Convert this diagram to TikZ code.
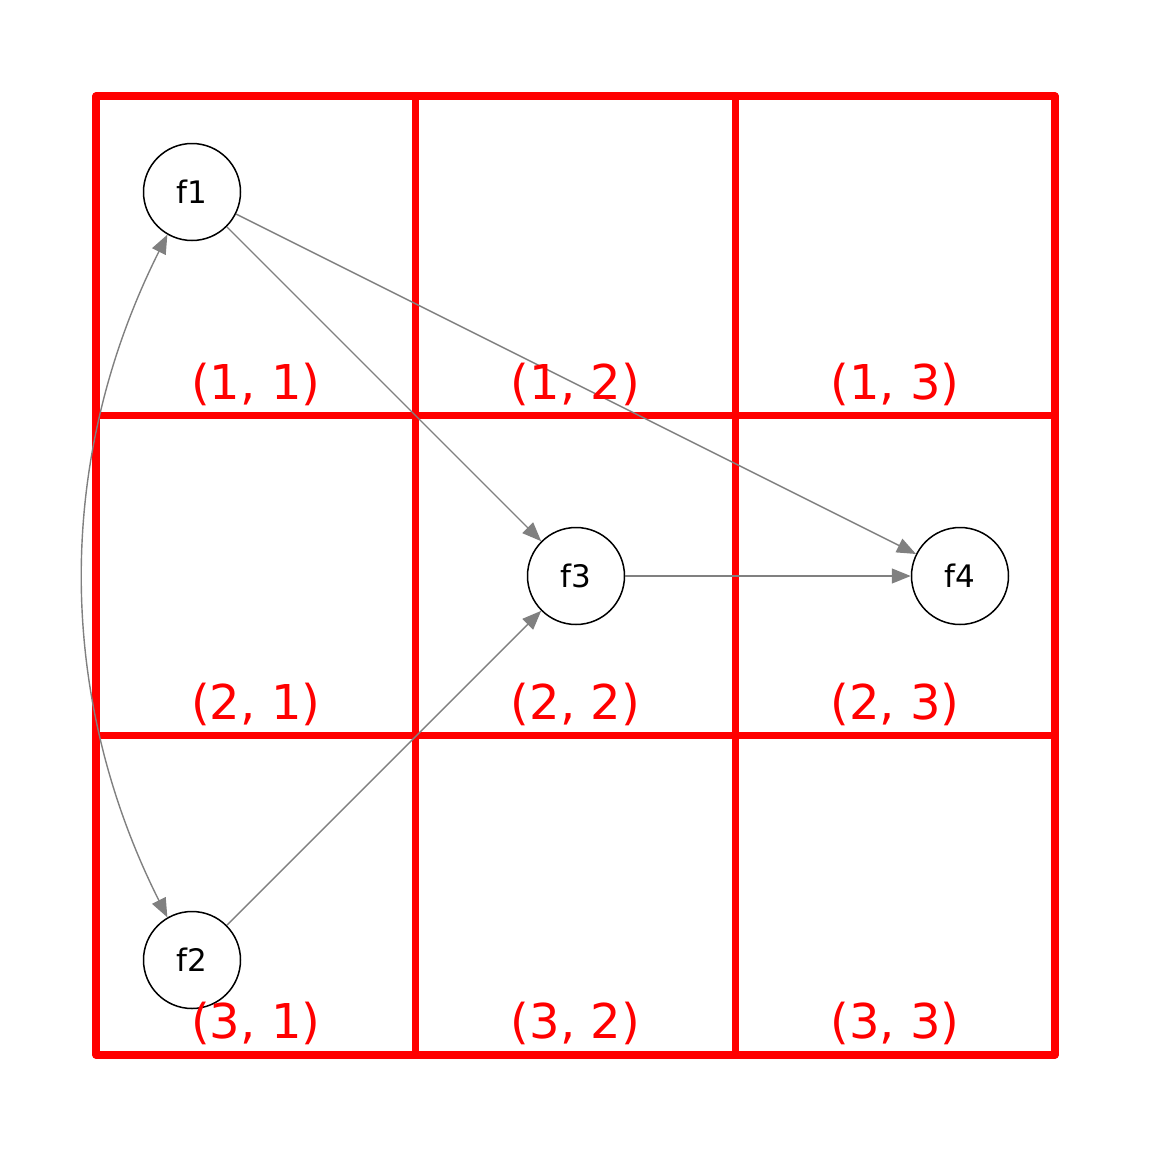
\documentclass[tikz,border=0pt]{standalone}
\usepackage{fontspec}
\setmainfont{DejaVu Sans}
\usetikzlibrary{arrows.meta}
\definecolor{edgegray}{RGB}{128,128,128}
\begin{document}
\begin{tikzpicture}[x=0.5pt,y=-0.5pt,
  gridline/.style={draw=red,line width=3.6pt,line cap=round,line join=round},
  celllabel/.style={anchor=base,text=red,font=\fontsize{24pt}{28pt}\selectfont,inner sep=0pt},
  fnode/.style={circle,draw=black,line width=0.75pt,fill=white,minimum size=48.5pt,inner sep=0pt,font=\fontsize{15.5pt}{18pt}\selectfont},
  edge/.style={draw=edgegray,line width=0.7pt,-{Triangle[length=9.5pt,width=7.5pt]}},
  biedge/.style={draw=edgegray,line width=0.7pt,{Triangle[length=9.5pt,width=7.5pt]}-{Triangle[length=9.5pt,width=7.5pt]}}
]
\useasboundingbox (0,0) rectangle (1152,1152);
% grid
\draw[gridline] (96,96) rectangle (1055,1055);
\draw[gridline] (415.7,96) -- (415.7,1055);
\draw[gridline] (735.3,96) -- (735.3,1055);
\draw[gridline] (96,415.7) -- (1055,415.7);
\draw[gridline] (96,735.3) -- (1055,735.3);
% nodes
\node[fnode] (f1) at (192,192) {f1};
\node[fnode] (f2) at (192,960) {f2};
\node[fnode] (f3) at (576,576) {f3};
\node[fnode] (f4) at (960,576) {f4};
% control points
\coordinate (ca) at (55.3,458);
\coordinate (cb) at (55.3,694);
% edges
\draw[edge] (f1) -- (f3);
\draw[edge] (f1) -- (f4);
\draw[edge] (f3) -- (f4);
\draw[edge] (f2) -- (f3);
\draw[biedge] (f1.240) .. controls (ca) and (cb) .. (f2.120);
% cell labels
\node[celllabel] (l11) at (255.8,399) {(1, 1)};
\node[celllabel] (l12) at (575.5,399) {(1, 2)};
\node[celllabel] (l13) at (895.2,399) {(1, 3)};
\node[celllabel] (l21) at (255.8,719) {(2, 1)};
\node[celllabel] (l22) at (575.5,719) {(2, 2)};
\node[celllabel] (l23) at (895.2,719) {(2, 3)};
\node[celllabel] (l31) at (255.8,1038) {(3, 1)};
\node[celllabel] (l32) at (575.5,1038) {(3, 2)};
\node[celllabel] (l33) at (895.2,1038) {(3, 3)};
\end{tikzpicture}
\end{document}
